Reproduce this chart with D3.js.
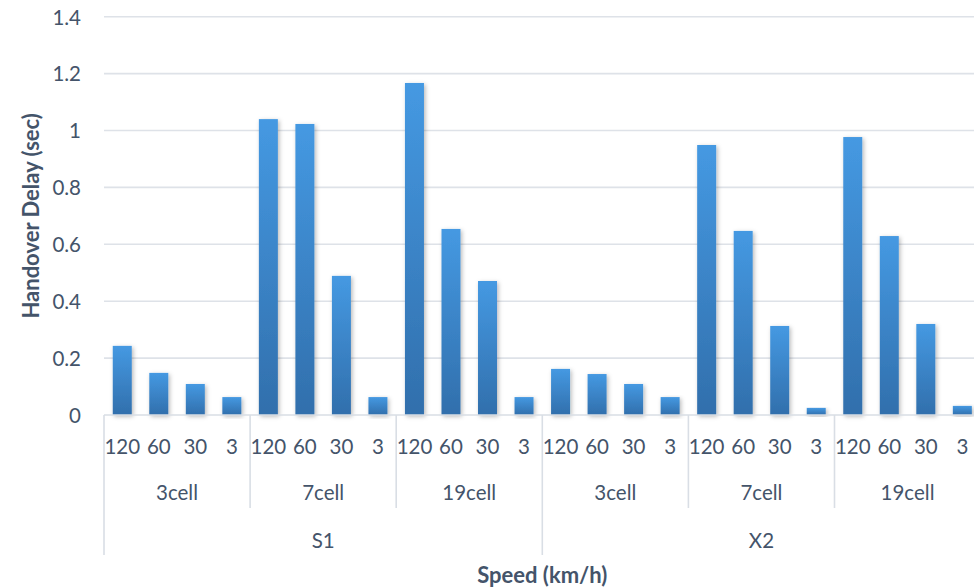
<!DOCTYPE html>
<html>
<head>
<meta charset="utf-8">
<script src="https://cdn.jsdelivr.net/npm/d3@7"></script>
<style>
  html, body { margin: 0; padding: 0; background: #fff; }
  svg { display: block; font-family: Lato, "Open Sans", sans-serif; }
</style>
</head>
<body>
<svg id="chart" width="974" height="588"></svg>
<script>
// Handover delay by procedure, cell layout and UE speed
const procedures = ["S1", "X2"];
const cellLayouts = ["3cell", "7cell", "19cell"];
const speeds = ["120", "60", "30", "3"];
const delayS1 = [0.243, 0.148, 0.109, 0.063,
                 1.040, 1.023, 0.489, 0.063,
                 1.167, 0.654, 0.471, 0.063];
const delayX2 = [0.162, 0.144, 0.109, 0.063,
                 0.949, 0.647, 0.313, 0.025,
                 0.977, 0.629, 0.320, 0.032];
const yTicks = [0, 0.2, 0.4, 0.6, 0.8, 1, 1.2, 1.4];

// Flatten into one row per bar
const rows = [];
procedures.forEach((p, pi) => {
  const vals = pi === 0 ? delayS1 : delayX2;
  cellLayouts.forEach((c, ci) => {
    speeds.forEach((s, si) => {
      rows.push({ id: `${p}|${c}|${s}`, procedure: p, layout: c, speed: s,
                  value: vals[ci * speeds.length + si] });
    });
  });
});

const svg = d3.select("#chart");
const plotLeft = 104, plotRight = 980.6, plotTop = 16.7, plotBase = 415;
const labelSize = "20.5px";
const titleSize = "22px";

const x = d3.scaleBand()
  .domain(rows.map(d => d.id))
  .range([plotLeft, plotRight])
  .paddingInner(0.48)
  .paddingOuter(0.24);
const step = x.step();

const y = d3.scaleLinear().domain([0, 1.4]).range([plotBase, plotTop]);

const textColor = "#44546A";
const lineColor = "#D9DEE5";

// Definitions: bar gradient and soft shadow
const defs = svg.append("defs");
const grad = defs.append("linearGradient")
  .attr("id", "barGrad").attr("x1", 0).attr("y1", 0).attr("x2", 0).attr("y2", 1);
grad.append("stop").attr("offset", "0%").attr("stop-color", "#4599E2");
grad.append("stop").attr("offset", "100%").attr("stop-color", "#316FAC");
const shadow = defs.append("filter").attr("id", "barShadow")
  .attr("x", "-30%").attr("y", "-10%").attr("width", "170%").attr("height", "130%");
shadow.append("feDropShadow").attr("dx", 1.5).attr("dy", 1.5)
  .attr("stdDeviation", 2).attr("flood-color", "#000").attr("flood-opacity", 0.28);

// Gridlines
svg.append("g")
  .selectAll("line")
  .data(yTicks.filter(t => t > 0))
  .join("line")
  .attr("x1", plotLeft).attr("x2", plotRight)
  .attr("y1", d => y(d)).attr("y2", d => y(d))
  .attr("stroke", "#DEE2E8").attr("stroke-width", 1.6);

// Y axis labels
const yAxis = d3.axisLeft(y)
  .tickValues(yTicks)
  .tickFormat(d => String(+d.toFixed(1)))
  .tickSize(0)
  .tickPadding(0);
const yg = svg.append("g").attr("transform", "translate(81,0)").call(yAxis);
yg.select(".domain").remove();
yg.selectAll("text")
  .attr("fill", textColor)
  .style("font-size", labelSize)
  .style("font-family", "Lato, 'Open Sans', sans-serif")
  .attr("dy", "0.36em");

// Bars
svg.append("g")
  .selectAll("rect")
  .data(rows)
  .join("rect")
  .attr("x", d => x(d.id))
  .attr("width", x.bandwidth())
  .attr("y", d => y(d.value))
  .attr("height", d => y(0) - y(d.value))
  .attr("fill", "url(#barGrad)")
  .attr("filter", "url(#barShadow)");

// Category axis baseline
svg.append("line")
  .attr("x1", plotLeft).attr("x2", plotRight)
  .attr("y1", plotBase).attr("y2", plotBase)
  .attr("stroke", lineColor).attr("stroke-width", 1.6);

// Speed labels (innermost level)
svg.append("g")
  .selectAll("text")
  .data(rows)
  .join("text")
  .attr("x", d => x(d.id) + x.bandwidth() / 2)
  .attr("y", 447)
  .attr("dy", "0.36em")
  .attr("text-anchor", "middle")
  .attr("fill", textColor)
  .style("font-size", labelSize)
  .text(d => d.speed);

// Cell layout groups
const groupW = step * speeds.length;
const groups = [];
procedures.forEach((p, pi) => cellLayouts.forEach((c, ci) => {
  groups.push({ procedure: p, layout: c, start: plotLeft + (pi * cellLayouts.length + ci) * groupW });
}));
svg.append("g")
  .selectAll("text")
  .data(groups)
  .join("text")
  .attr("x", d => d.start + groupW / 2)
  .attr("y", 493)
  .attr("dy", "0.36em")
  .attr("text-anchor", "middle")
  .attr("fill", textColor)
  .style("font-size", labelSize)
  .text(d => d.layout);

// Separators between cell layout groups
svg.append("g")
  .selectAll("line")
  .data(groups.filter((d, i) => i % cellLayouts.length !== 0))
  .join("line")
  .attr("x1", d => d.start).attr("x2", d => d.start)
  .attr("y1", plotBase).attr("y2", 508)
  .attr("stroke", lineColor).attr("stroke-width", 1.6);

// Procedure level
const procW = groupW * cellLayouts.length;
svg.append("g")
  .selectAll("text")
  .data(procedures)
  .join("text")
  .attr("x", (d, i) => plotLeft + i * procW + procW / 2)
  .attr("y", 541)
  .attr("dy", "0.36em")
  .attr("text-anchor", "middle")
  .attr("fill", textColor)
  .style("font-size", labelSize)
  .text(d => d);

svg.append("g")
  .selectAll("line")
  .data(d3.range(procedures.length + 1))
  .join("line")
  .attr("x1", i => plotLeft + i * procW).attr("x2", i => plotLeft + i * procW)
  .attr("y1", plotBase).attr("y2", 555)
  .attr("stroke", lineColor).attr("stroke-width", 1.6);

// Axis titles
svg.append("text")
  .attr("transform", `translate(31,${(plotTop + plotBase) / 2}) rotate(-90)`)
  .attr("text-anchor", "middle")
  .attr("dy", "0.36em")
  .attr("fill", textColor)
  .style("font-size", titleSize)
  .style("font-weight", "bold")
  .text("Handover Delay (sec)");

svg.append("text")
  .attr("x", plotLeft + procW)
  .attr("y", 575)
  .attr("dy", "0.36em")
  .attr("text-anchor", "middle")
  .attr("fill", textColor)
  .style("font-size", titleSize)
  .style("font-weight", "bold")
  .text("Speed (km/h)");
</script>
</body>
</html>
